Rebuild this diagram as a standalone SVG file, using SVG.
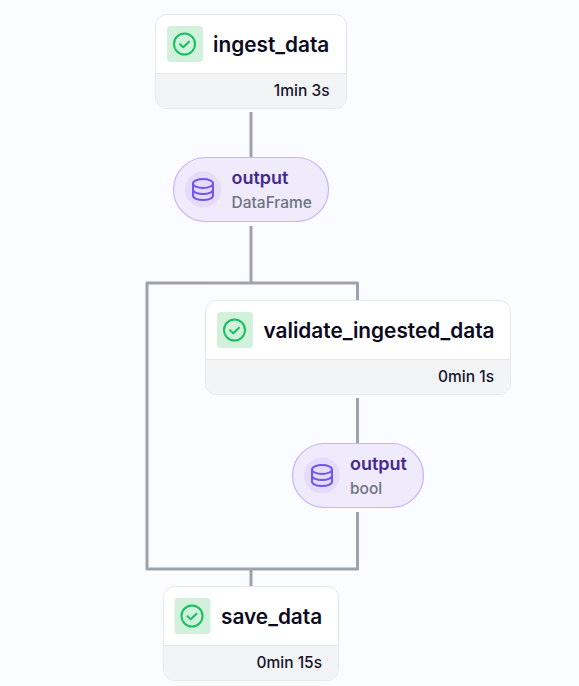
<svg xmlns="http://www.w3.org/2000/svg" width="579" height="686" viewBox="0 0 579 686">
<style>
text{font-family:Inter,"Liberation Sans",sans-serif;font-optical-sizing:none;font-variation-settings:"opsz" 14}
.card{fill:#fff;stroke:#e5e7eb;stroke-width:1}
.foot{fill:#f3f4f6}
.div{stroke:#e5e7eb;stroke-width:1;fill:none}
.ico{fill:#d1f1dd}
.chk{fill:none;stroke:#16c05f;stroke-width:2;stroke-linecap:round;stroke-linejoin:round}
.name{font-size:20.800px;font-weight:600;fill:#0c0a1e}
.time{font-size:15.500px;font-weight:500;fill:#16132b;text-anchor:end}
.pill{fill:#f0eafd;stroke:#c4b5fd;stroke-width:1.200}
.disc{fill:#e5dcfb}
.db{fill:none;stroke:#7355ee;stroke-width:2;stroke-linecap:round;stroke-linejoin:round}
.art{font-size:18px;font-weight:600;fill:#46298f}
.typ{font-size:15.500px;font-weight:500;fill:#6b7280}
.edge{fill:none;stroke:#9ca3af;stroke-width:3;stroke-linejoin:round}
</style>
<defs>
<g id="check">
<rect class="ico" x="0" y="0" width="36" height="36" rx="4"/>
<circle class="chk" cx="17.500" cy="18" r="10.500"/>
<path class="chk" d="M13 18.300l3.200 3 5.800-5.600"/>
</g>
<g id="dbicon">
<circle class="disc" cx="0" cy="0" r="18"/>
<ellipse class="db" cx="0" cy="-6" rx="10" ry="4.500"/>
<path class="db" d="M-10 -6V6C-10 9 -5 10.500 0 10.500S10 9 10 6V-6M-10 0C-10 3 -5 4.500 0 4.500S10 3 10 0"/>
</g>
</defs>
<rect width="579" height="686" fill="#fbfcff"/>
<g id="connectors">
<path class="edge" d="M251 112V157"/>
<path class="edge" d="M251 226V283"/>
<path class="edge" d="M251 283H147V569H251"/>
<path class="edge" d="M251 283H357.500V300"/>
<path class="edge" d="M357.500 398V443"/>
<path class="edge" d="M357.500 512V569H251"/>
<path class="edge" d="M251 569V586"/>
</g>
<g id="ingest_data">
<rect class="card" x="155.500" y="14.500" width="191" height="94" rx="11"/>
<path class="foot" d="M156 74H346V97.500A10.500 10.500 0 0 1 335.500 108H166.500A10.500 10.500 0 0 1 156 97.500Z"/>
<path class="div" d="M156 73.500H346"/>
<use href="#check" x="167" y="26"/>
<text class="name" x="213" y="52">ingest_data</text>
<text class="time" x="329.500" y="96">1min 3s</text>
</g>
<g id="ingest_output">
<rect class="pill" x="173.500" y="157.500" width="155" height="64" rx="32"/>
<use href="#dbicon" x="203" y="189.500"/>
<text class="art" x="231.500" y="183.500">output</text>
<text class="typ" x="231.500" y="207.500">DataFrame</text>
</g>
<g id="validate_ingested_data">
<rect class="card" x="205.500" y="300.500" width="305" height="94" rx="11"/>
<path class="foot" d="M206 360H510V383.500A10.500 10.500 0 0 1 499.500 394H216.500A10.500 10.500 0 0 1 206 383.500Z"/>
<path class="div" d="M206 359.500H510"/>
<use href="#check" x="217" y="312"/>
<text class="name" x="263.500" y="338">validate_ingested_data</text>
<text class="time" x="494" y="382">0min 1s</text>
</g>
<g id="validate_output">
<rect class="pill" x="292.500" y="443.500" width="131" height="64" rx="32"/>
<use href="#dbicon" x="322" y="475.500"/>
<text class="art" x="350" y="469.500">output</text>
<text class="typ" x="350" y="493.500">bool</text>
</g>
<g id="save_data">
<rect class="card" x="163.500" y="586.500" width="175" height="94" rx="11"/>
<path class="foot" d="M164 646H338V669.500A10.500 10.500 0 0 1 327.500 680H174.500A10.500 10.500 0 0 1 164 669.500Z"/>
<path class="div" d="M164 645.500H338"/>
<use href="#check" x="174.500" y="598"/>
<text class="name" x="221" y="624">save_data</text>
<text class="time" x="322" y="668">0min 15s</text>
</g>
</svg>
